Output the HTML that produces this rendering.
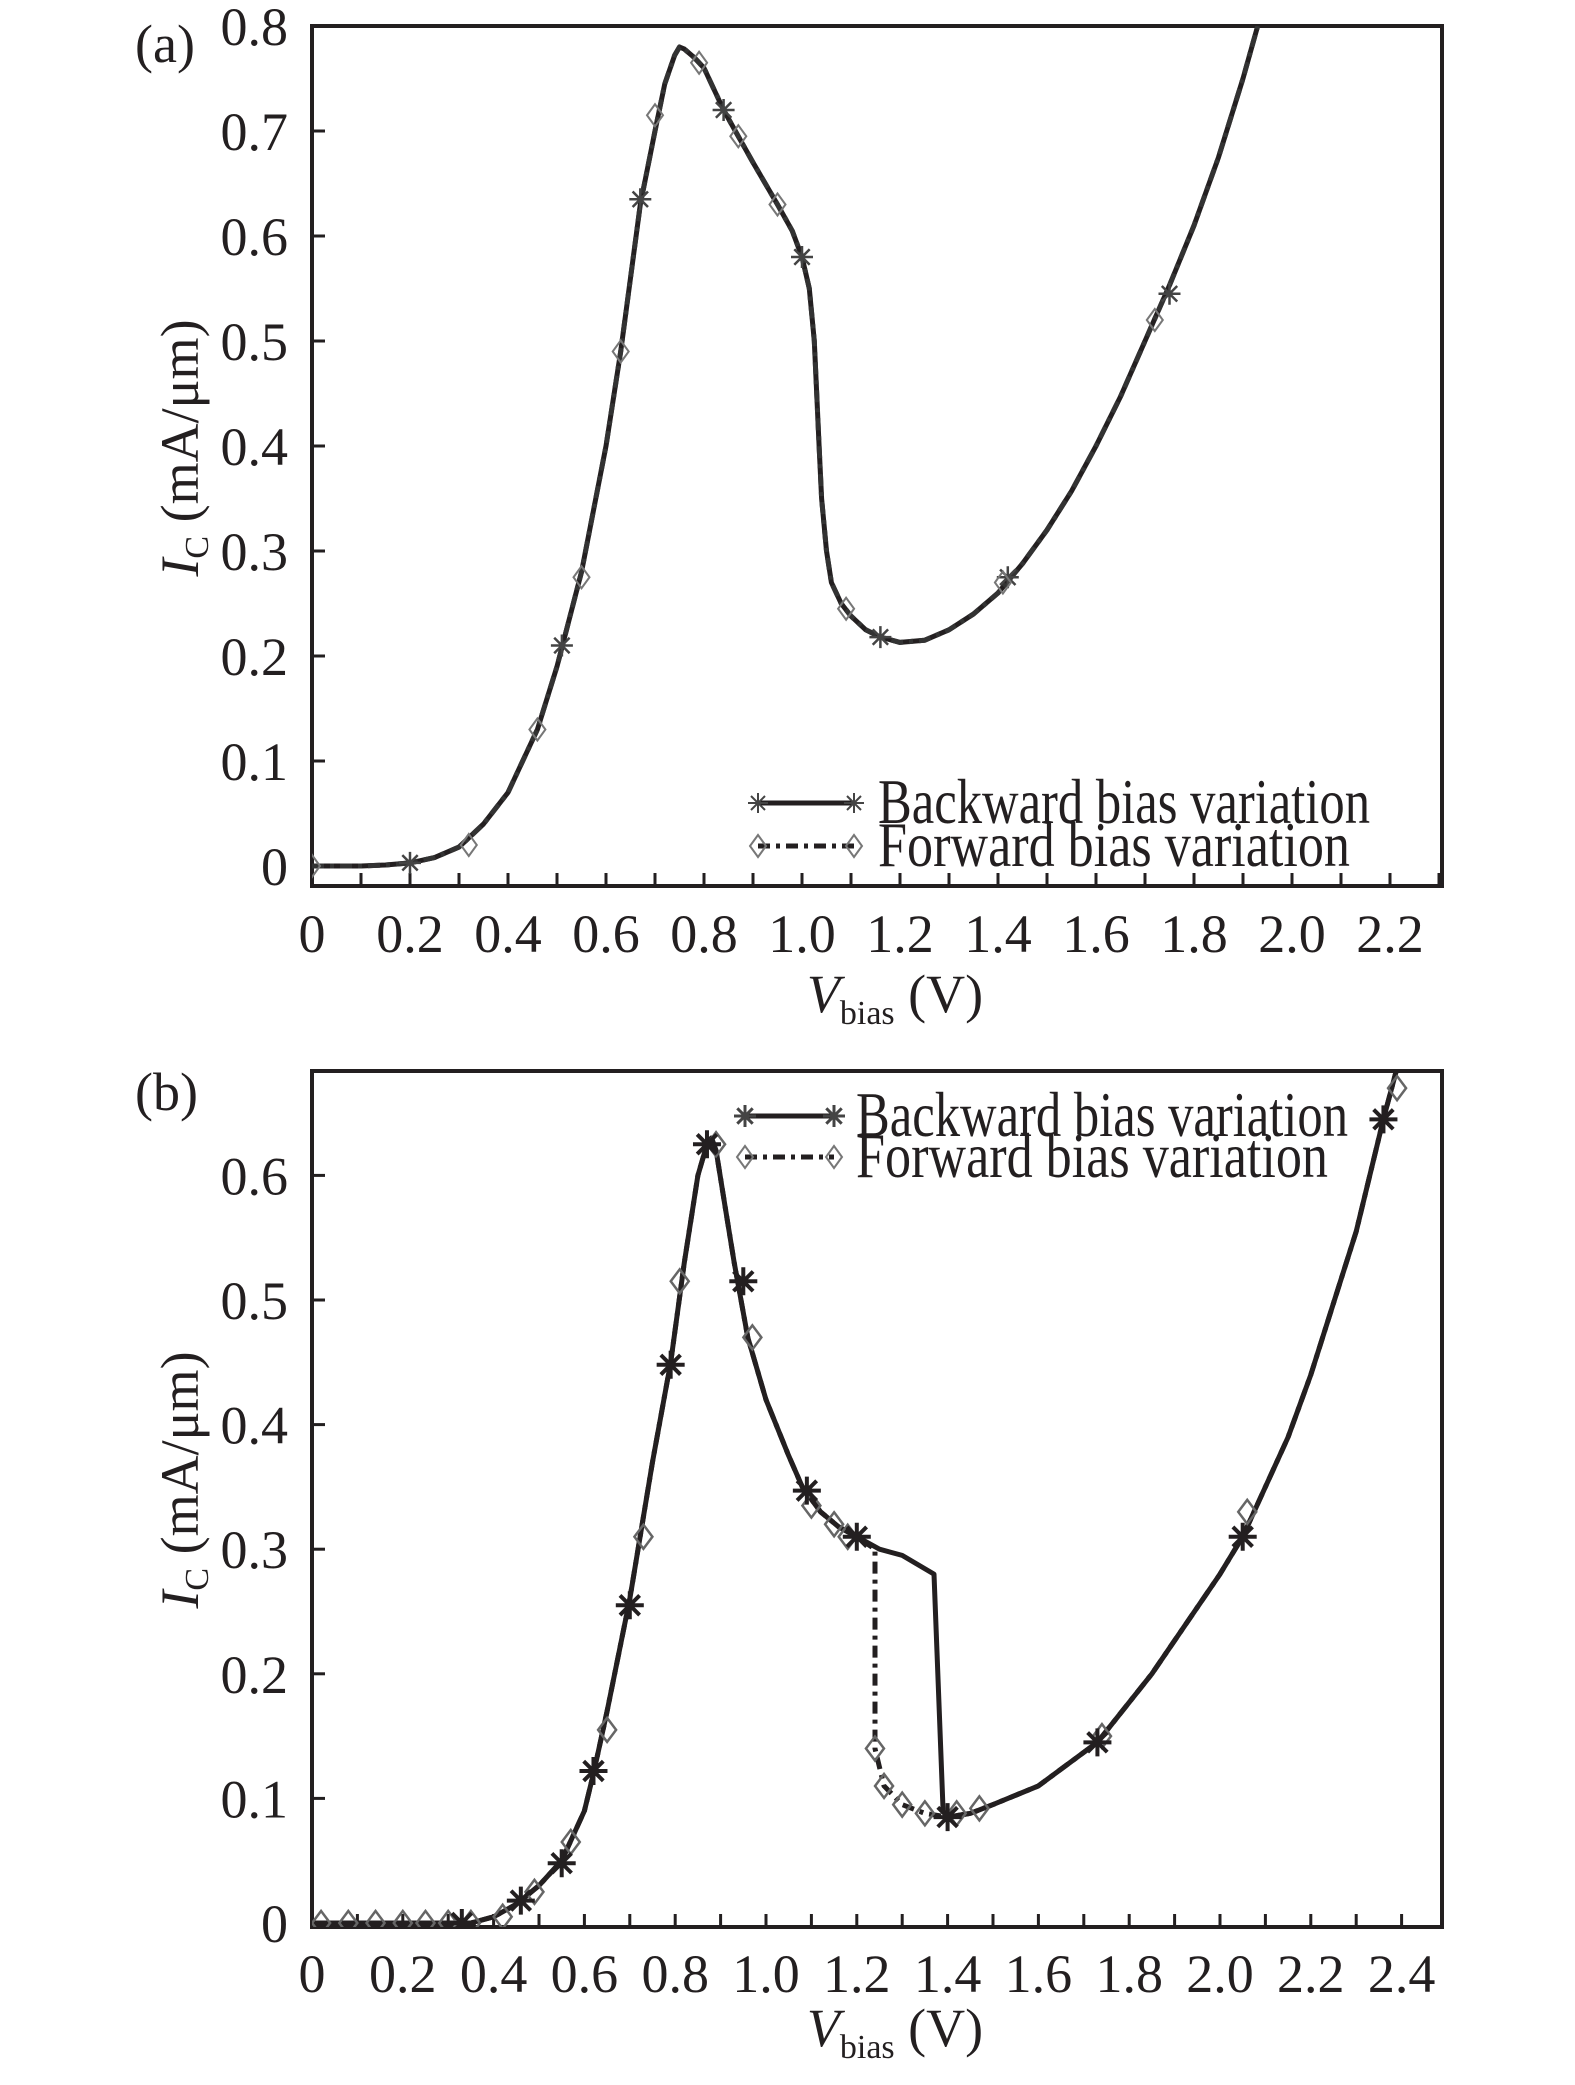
<!DOCTYPE html>
<html><head><meta charset="utf-8">
<style>
html,body{margin:0;padding:0;background:#fff;}
svg{display:block;}
text{font-family:"Liberation Serif",serif;fill:#231f20;}
</style></head>
<body>
<svg id="fig" width="1575" height="2085" viewBox="0 0 1575 2085" xmlns="http://www.w3.org/2000/svg"></svg>
<script>
// ---- Panel (a) data ----
const aCurveV = [0,0.1,0.15,0.2,0.25,0.3,0.35,0.4,0.46,0.5,0.55,0.6,0.63,0.67,0.7,0.72,0.74,0.75,0.76,0.78,0.8,0.84,0.87,0.9,0.95,0.98,1.0,1.015,1.025,1.03,1.035,1.04,1.05,1.06,1.08,1.1,1.13,1.16,1.2,1.25,1.3,1.35,1.4,1.45,1.5,1.55,1.6,1.65,1.7,1.75,1.8,1.85,1.9,1.93];
const aCurveI = [0,0,0.001,0.003,0.008,0.018,0.04,0.07,0.13,0.19,0.28,0.40,0.49,0.63,0.70,0.745,0.772,0.78,0.778,0.77,0.76,0.72,0.695,0.67,0.63,0.605,0.58,0.55,0.5,0.45,0.4,0.35,0.3,0.27,0.25,0.238,0.225,0.218,0.213,0.215,0.225,0.24,0.26,0.288,0.32,0.357,0.40,0.447,0.50,0.553,0.61,0.675,0.75,0.8];
const aBackMarkV = [0.2,0.51,0.67,0.84,1.0,1.16,1.42,1.75];
const aBackMarkI = [0.003,0.21,0.635,0.72,0.58,0.218,0.275,0.545];
const aFwdMarkV = [0,0.32,0.46,0.55,0.63,0.70,0.79,0.87,0.95,1.09,1.41,1.72];
const aFwdMarkI = [0,0.02,0.13,0.275,0.49,0.715,0.765,0.695,0.63,0.245,0.27,0.52];
const aXTicks = ["0","0.2","0.4","0.6","0.8","1.0","1.2","1.4","1.6","1.8","2.0","2.2"];
const aYTicks = ["0","0.1","0.2","0.3","0.4","0.5","0.6","0.7","0.8"];

// ---- Panel (b) data ----
const bBackV = [0,0.1,0.2,0.3,0.35,0.4,0.45,0.5,0.55,0.6,0.62,0.65,0.7,0.75,0.79,0.82,0.85,0.87,0.88,0.89,0.91,0.93,0.96,1.0,1.05,1.08,1.12,1.16,1.2,1.25,1.3,1.37,1.39,1.4,1.45,1.5,1.6,1.73,1.85,2.0,2.05,2.15,2.2,2.3,2.36,2.4];
const bBackI = [0,0,0,0,0,0.005,0.015,0.03,0.05,0.09,0.12,0.17,0.26,0.37,0.45,0.53,0.60,0.625,0.63,0.62,0.575,0.53,0.47,0.42,0.375,0.35,0.33,0.318,0.31,0.30,0.295,0.28,0.09,0.085,0.088,0.095,0.11,0.145,0.2,0.28,0.31,0.39,0.44,0.555,0.645,0.70];
const bFwdV = [0,0.1,0.2,0.3,0.35,0.4,0.45,0.5,0.55,0.6,0.62,0.65,0.7,0.75,0.79,0.82,0.85,0.87,0.88,0.89,0.91,0.93,0.96,1.0,1.05,1.08,1.12,1.16,1.2,1.24,1.24,1.26,1.3,1.35,1.4,1.45,1.5,1.6,1.73,1.85,2.0,2.05,2.15,2.2,2.3,2.36,2.4];
const bFwdI = [0,0,0,0,0,0.005,0.015,0.03,0.05,0.09,0.12,0.17,0.26,0.37,0.45,0.53,0.60,0.625,0.63,0.62,0.575,0.53,0.47,0.42,0.375,0.35,0.33,0.318,0.31,0.30,0.14,0.11,0.095,0.088,0.085,0.088,0.095,0.11,0.145,0.2,0.28,0.31,0.39,0.44,0.555,0.645,0.70];
const bBackMarkV = [0.33,0.46,0.55,0.62,0.7,0.79,0.87,0.95,1.09,1.2,1.4,1.73,2.05,2.36];
const bBackMarkI = [0,0.018,0.048,0.122,0.255,0.448,0.625,0.515,0.347,0.31,0.085,0.145,0.31,0.645];
const bFwdMarkV = [0.02,0.08,0.14,0.2,0.25,0.3,0.35,0.42,0.49,0.57,0.65,0.73,0.81,0.89,0.97,1.1,1.15,1.18,1.24,1.26,1.3,1.35,1.42,1.47,1.74,2.06,2.39];
const bFwdMarkI = [0,0,0,0,0,0,0,0.005,0.025,0.065,0.155,0.31,0.515,0.625,0.47,0.335,0.32,0.31,0.14,0.11,0.095,0.088,0.088,0.092,0.15,0.33,0.67];
const bXTicks = ["0","0.2","0.4","0.6","0.8","1.0","1.2","1.4","1.6","1.8","2.0","2.2","2.4"];
const bYTicks = ["0","0.1","0.2","0.3","0.4","0.5","0.6"];

const NS="http://www.w3.org/2000/svg";
const svg=document.getElementById('fig');
function mk(tag,attrs,parent){const e=document.createElementNS(NS,tag);for(const k in attrs)e.setAttribute(k,attrs[k]);(parent||svg).appendChild(e);return e;}

function asterisk(g,x,y,r,sw,col){
  const p=mk('path',{d:`M${x-r},${y}H${x+r}M${x},${y-r}V${y+r}M${x-r*0.7},${y-r*0.7}L${x+r*0.7},${y+r*0.7}M${x-r*0.7},${y+r*0.7}L${x+r*0.7},${y-r*0.7}`,stroke:col,'stroke-width':sw,fill:'none'},g);
  
  
}
function diamond(g,x,y,w,h,sw,col){
  const p=mk('path',{d:`M${x},${y-h}L${x+w},${y}L${x},${y+h}L${x-w},${y}Z`,stroke:col,'stroke-width':sw,fill:'none'},g);
  
  
}

function panel(cfg){
  const {name,x0,xs,y0,ys,left,right,top,bottom,xTicks,yTicks,lab,labY,xlabY,ylabY,xtY}=cfg;
  const X=v=>x0+v*xs, Y=v=>y0-v*ys;
  const g=mk('g',{});
  
  
  const box=mk('rect',{x:left,y:top,width:right-left,height:bottom-top,fill:'none',stroke:'#231f20','stroke-width':4},g);
  
  
  xTicks.forEach((t,i)=>{
    const v=i*0.2;
    for(let k=0;k<2;k++){const vv=v+k*0.1; if(X(vv)>right-2) continue;
      const tk=mk('line',{x1:X(vv),x2:X(vv),y1:bottom,y2:bottom-13,stroke:'#231f20','stroke-width':3},g);
      
      }
    const tx=mk('text',{x:X(v),y:xtY,'font-size':54,'text-anchor':'middle'},g);
    tx.textContent=t;
    
    
  });
  yTicks.forEach((t,i)=>{
    const v=i*0.1;
    const tk=mk('line',{x1:left,x2:left+13,y1:Y(v),y2:Y(v),stroke:'#231f20','stroke-width':3},g);
    
    
    const tx=mk('text',{x:288,y:Y(v)+19,'font-size':54,'text-anchor':'end'},g);
    tx.textContent=t;
    
    
  });
  const pl=mk('text',{x:135,y:labY,'font-size':54},g);
  pl.textContent=lab;
  
  
  const xl=mk('text',{x:895,y:xlabY,'font-size':54,'text-anchor':'middle'},g);
  xl.innerHTML='<tspan font-style="italic">V</tspan><tspan font-size="34" dy="12">bias</tspan><tspan dy="-12"> (V)</tspan>';
  
  
  const yl=mk('text',{x:0,y:0,'font-size':54,'text-anchor':'middle',transform:`translate(198,${ylabY}) rotate(-90)`},g);
  yl.innerHTML='<tspan font-style="italic">I</tspan><tspan font-size="34" dy="10">C</tspan><tspan dy="-10"> (mA/μm)</tspan>';
  
  
  return {g,X,Y};
}

function line(g,V,I,X,Y,dash,name,col){
  const pts=V.map((v,i)=>`${X(v).toFixed(1)},${Y(I[i]).toFixed(1)}`).join(' ');
  const a={points:pts,fill:'none',stroke:col,'stroke-width':5,'stroke-linejoin':'round'};
  if(dash)a['stroke-dasharray']=dash;
  const p=mk('polyline',a,g);
  
  
}

function legend(g,lx1,lx2,y1,y2,tx,big){
  const l1=mk('line',{x1:lx1,x2:lx2,y1:y1,y2:y1,stroke:'#231f20','stroke-width':5},g);
  
  
  asterisk(g,lx1,y1,big?11:10,big?3:2,'#444');asterisk(g,lx2,y1,big?11:10,big?3:2,'#444');
  const l2=mk('line',{x1:lx1,x2:lx2,y1:y2,y2:y2,stroke:'#231f20','stroke-width':5,'stroke-dasharray':'12,6,4,6'},g);
  
  
  diamond(g,lx1,y2,8,11,2,'#777');diamond(g,lx2,y2,8,11,2,'#777');
  const t1=mk('text',{x:tx,y:y1+20,'font-size':64,textLength:492,lengthAdjust:'spacingAndGlyphs'},g);
  t1.textContent='Backward bias variation';
  
  
  const t2=mk('text',{x:tx,y:y2+20,'font-size':64,textLength:472,lengthAdjust:'spacingAndGlyphs'},g);
  t2.textContent='Forward bias variation';
  
  
}

// Panel a
const A=panel({name:'panel-a',x0:312,xs:490,y0:866,ys:1050,left:312,right:1442,top:26,bottom:886,
  xTicks:aXTicks,yTicks:aYTicks,lab:'(a)',labY:62,xlabY:1012,ylabY:448,xtY:952});
const clipA=mk('clipPath',{id:'ca'});mk('rect',{x:312,y:26,width:1130,height:860},clipA);
const ga=mk('g',{'clip-path':'url(#ca)'},A.g);


line(ga,aCurveV,aCurveI,A.X,A.Y,null,'backward-curve-a','#231f20');
line(ga,aCurveV,aCurveI,A.X,A.Y,'12,6,4,6','forward-curve-a','#333');
aBackMarkV.forEach((v,i)=>asterisk(ga,A.X(v),A.Y(aBackMarkI[i]),11,2.5,'#444'));
aFwdMarkV.forEach((v,i)=>diamond(ga,A.X(v),A.Y(aFwdMarkI[i]),8,11,2,'#777'));
legend(A.g,758,854,803,846,878,false);

// Panel b
const B=panel({name:'panel-b',x0:312,xs:454,y0:1923,ys:1246,left:312,right:1442,top:1071,bottom:1927,
  xTicks:bXTicks,yTicks:bYTicks,lab:'(b)',labY:1110,xlabY:2046,ylabY:1480,xtY:1992});
const clipB=mk('clipPath',{id:'cb'});mk('rect',{x:312,y:1071,width:1130,height:856},clipB);
const gb=mk('g',{'clip-path':'url(#cb)'},B.g);


line(gb,bFwdV,bFwdI,B.X,B.Y,'12,6,4,6','forward-curve-b','#231f20');
line(gb,bBackV,bBackI,B.X,B.Y,null,'backward-curve-b','#231f20');
bFwdMarkV.forEach((v,i)=>diamond(gb,B.X(v),B.Y(bFwdMarkI[i]),9,12,2.5,'#666'));
bBackMarkV.forEach((v,i)=>asterisk(gb,B.X(v),B.Y(bBackMarkI[i]),14,4,'#231f20'));
legend(B.g,745,834,1116,1157,856,true);
</script>
</body></html>
